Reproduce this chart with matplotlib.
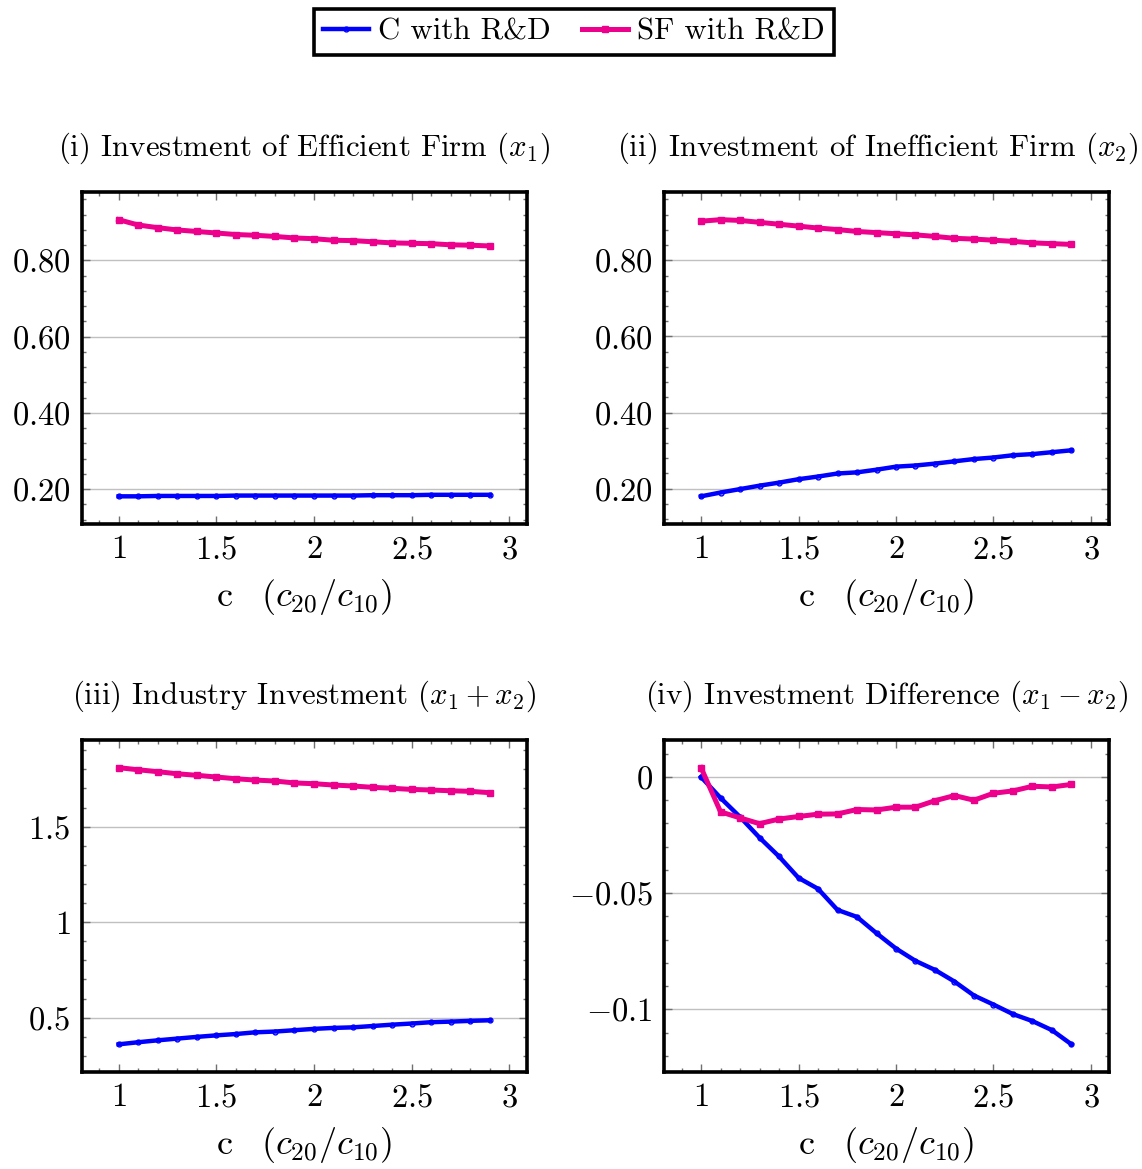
import matplotlib
matplotlib.use("Agg")
import matplotlib.pyplot as plt
from matplotlib.ticker import MultipleLocator, FuncFormatter

# Dữ liệu
c = [1.0, 1.1, 1.2, 1.3, 1.4, 1.5, 1.6, 1.7, 1.8, 1.9,
     2.0, 2.1, 2.2, 2.3, 2.4, 2.5, 2.6, 2.7, 2.8, 2.9]

# (i) x1
c_x1 = [0.181, 0.181, 0.182, 0.182, 0.182, 0.182, 0.183, 0.183, 0.183, 0.183,
        0.183, 0.183, 0.183, 0.184, 0.184, 0.184, 0.185, 0.185, 0.185, 0.185]
sf_x1 = [0.907, 0.893, 0.886, 0.880, 0.876, 0.872, 0.868, 0.866, 0.863, 0.859,
         0.857, 0.853, 0.852, 0.849, 0.846, 0.845, 0.844, 0.841, 0.840, 0.838]

# (ii) x2
c_x2 = [0.180, 0.190, 0.199, 0.208, 0.216, 0.225, 0.232, 0.240, 0.243, 0.250,
        0.258, 0.261, 0.266, 0.272, 0.278, 0.282, 0.288, 0.291, 0.296, 0.301]
sf_x2 = [0.903, 0.907, 0.905, 0.900, 0.895, 0.890, 0.885, 0.881, 0.876, 0.873,
         0.870, 0.867, 0.863, 0.858, 0.856, 0.853, 0.850, 0.846, 0.844, 0.842]

# (iii) x1 + x2
c_sum = [0.360, 0.371, 0.381, 0.390, 0.399, 0.407, 0.414, 0.423, 0.427, 0.434,
         0.441, 0.446, 0.449, 0.456, 0.463, 0.469, 0.476, 0.479, 0.483, 0.486]
sf_sum = [1.809, 1.798, 1.788, 1.777, 1.769, 1.760, 1.751, 1.744, 1.739, 1.729,
          1.725, 1.718, 1.713, 1.706, 1.701, 1.695, 1.692, 1.688, 1.685, 1.678]

# (iv) x1 - x2
c_diff = [0.0, -0.0090, -0.0172, -0.0261, -0.0342, -0.0434, -0.0481, -0.0572, -0.0602, -0.0672,
          -0.0738, -0.0791, -0.0830, -0.0880, -0.0940, -0.0979, -0.1020, -0.1050, -0.1089, -0.1150]
sf_diff = [0.0040, -0.0150, -0.0176, -0.0201, -0.0181, -0.0170, -0.0160, -0.0159, -0.0140, -0.0142,
           -0.0130, -0.0130, -0.0102, -0.0080, -0.0100, -0.0070, -0.0060, -0.0040, -0.0043, -0.0032]

titles = [r"(i) Investment of Efficient Firm ($x_1$)",
          r"(ii) Investment of Inefficient Firm ($x_2$)",
          r"(iii) Industry Investment ($x_1 + x_2$)",
          r"(iv) Investment Difference ($x_1 - x_2$)"]

panels = [(c_x1, sf_x1), (c_x2, sf_x2), (c_sum, sf_sum), (c_diff, sf_diff)]

# Cấu hình kiểu chữ giống LaTeX
plt.rcParams["font.family"] = ["cmr10", "DejaVu Serif"]
plt.rcParams["mathtext.fontset"] = "cm"
plt.rcParams["axes.formatter.use_mathtext"] = True
plt.rcParams["font.size"] = 23.5

blue = "#0000ff"
pink = "#ec008c"

fig = plt.figure(figsize=(11.42, 11.69), dpi=100)

W, H = 1142, 1169
boxes = [(81.5, 192, 527, 524), (664, 192, 1108.5, 524),
         (81.5, 740, 527, 1072), (664, 740, 1108.5, 1072)]
title_x = [0.5, 0.482, 0.5, 0.5]

# trục y: bước chính, bước phụ, định dạng
y_major = [0.2, 0.2, 0.5, 0.05]
y_minor = [0.04, 0.04, 0.1, 0.01]
y_fmt = [lambda v, p: f"${v:.2f}$", lambda v, p: f"${v:.2f}$",
         lambda v, p: f"${v:g}$", lambda v, p: f"${v:g}$"]

axes = []
for i, (l, t, r, b) in enumerate(boxes):
    ax = fig.add_axes([l / W, 1 - b / H, (r - l) / W, (b - t) / H])
    axes.append(ax)
    cy, sy = panels[i]
    ax.plot(c, cy, color=blue, lw=3.2, marker="o", ms=3.5, mfc="none",
            mew=1.0, label="C with R&D", zorder=3)
    ax.plot(c, sy, color=pink, lw=3.6, marker="s", ms=4.5,
            label="SF with R&D", zorder=3)
    ax.margins(x=0.1, y=0.1)

    ax.set_title(titles[i], pad=26, fontsize=22.2, x=title_x[i])
    ax.set_xlabel(r"c  $\,(c_{20}/c_{10})$", labelpad=9, fontsize=26)

    ax.xaxis.set_major_locator(MultipleLocator(0.5))
    ax.xaxis.set_minor_locator(MultipleLocator(0.1))
    ax.xaxis.set_major_formatter(FuncFormatter(lambda v, p: f"${v:g}$"))
    ax.yaxis.set_major_locator(MultipleLocator(y_major[i]))
    ax.yaxis.set_minor_locator(MultipleLocator(y_minor[i]))
    ax.yaxis.set_major_formatter(FuncFormatter(y_fmt[i]))

    ax.grid(True, axis="y", which="major", color="#c0c0c0", lw=1.0, zorder=0)
    ax.tick_params(which="both", direction="in", top=True, right=True,
                   color="#707070", width=1.0)
    ax.tick_params(which="major", length=6, pad=8)
    ax.tick_params(which="minor", length=3)
    for s in ax.spines.values():
        s.set_linewidth(2.6)
        s.set_color("black")

handles, labels = axes[0].get_legend_handles_labels()
leg = fig.legend(handles, labels, loc="upper center", bbox_to_anchor=(0.5026, 0.9923),
                 ncol=2, frameon=True, fancybox=False, framealpha=1, numpoints=1,
                 handlelength=1.5, columnspacing=1.0, handletextpad=0.3,
                 borderpad=0.3, borderaxespad=0, fontsize=22.2)
leg.get_frame().set_edgecolor("black")
leg.get_frame().set_linewidth(2.6)

plt.savefig("out.png", dpi=100)
